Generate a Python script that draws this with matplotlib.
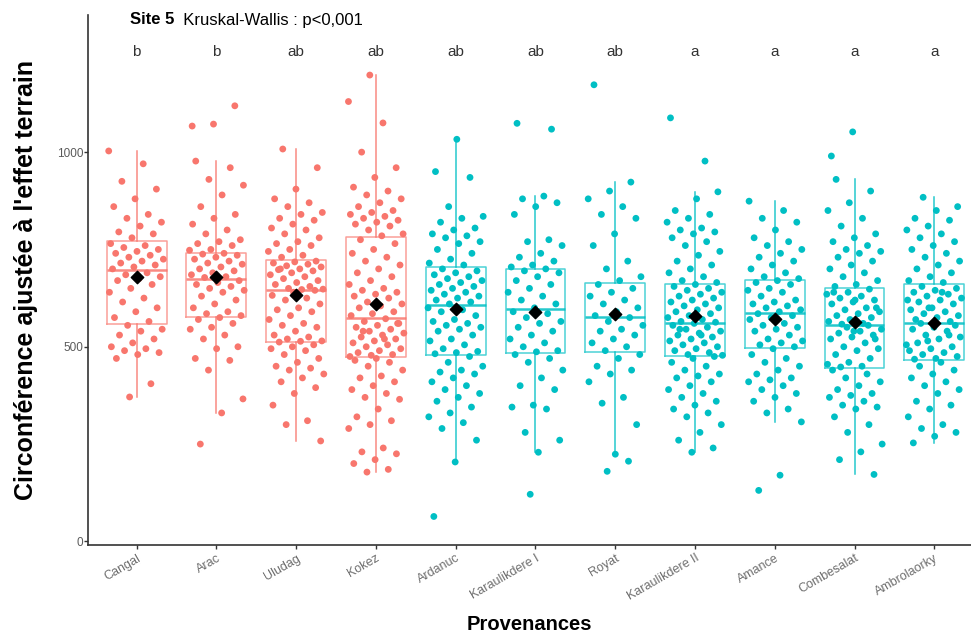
import numpy as np
import matplotlib.pyplot as plt

# provenances and groups
provenances = ['Cangal', 'Arac', 'Uludag', 'Kokez', 'Ardanuc', 'Karaulikdere I', 'Royat',
               'Karaulikdere II', 'Amance', 'Combesalat', 'Ambrolaorky']
groupe = [0, 0, 0, 0, 1, 1, 1, 1, 1, 1, 1]
lettres = ['b', 'b', 'ab', 'ab', 'ab', 'ab', 'ab', 'a', 'a', 'a', 'a']

# box stats
q1 = [559, 577, 513, 474, 479, 485, 487, 477, 498, 446, 466]
mediane = [696, 673, 647, 575, 606, 596, 577, 562, 588, 557, 562]
q3 = [771, 742, 722, 781, 704, 701, 665, 662, 672, 650, 660]
moust_bas = [371, 330, 258, 178, 204, 229, 224, 229, 307, 172, 253]
moust_haut = [1003, 977, 1008, 1198, 1033, 887, 923, 898, 874, 930, 884]
moyenne = [680, 678, 634, 611, 598, 590, 585, 580, 572, 564, 562]

# individual trees (circumference)
cangal = [1003, 970, 925, 905, 880, 860, 840, 830, 820, 810, 795, 790, 780,
          765, 760, 755, 750, 745, 740, 735, 730, 725, 720, 715, 710, 705, 700,
          690, 685, 680, 675, 670, 660, 650, 640, 625, 615, 600, 590, 575, 565,
          555, 545, 540, 530, 520, 510, 500, 495, 490, 485, 480, 470, 405, 371]
arac = [977, 960, 930, 915, 890, 860, 840, 830, 815, 800, 790, 775, 770, 765, 760, 750, 748,
        740, 738, 735, 730, 725, 720, 715, 712, 705, 700, 695, 690, 685, 680, 678,
        670, 665, 660, 655, 650, 645, 640, 630, 620, 610, 600, 590, 585, 580,
        575, 570, 560, 550, 545, 530, 520, 500, 495, 470, 465, 440, 366, 330, 250,
        1119, 1072, 1067]
uludag = [1008, 960, 905, 880, 870, 860, 845, 840, 830, 825, 815, 805, 800, 790, 780, 770,
          765, 760, 750, 745, 735, 730,
          720, 718, 715, 712, 708, 705, 700, 698, 695, 690, 685, 680, 675, 670, 665, 660,
          655, 650, 648, 647, 700,
          645, 640, 632, 625, 620, 610, 600, 595, 590, 580, 570, 560, 555, 550, 540, 530,
          525, 520, 515, 514,
          512, 505, 500, 495, 490, 480, 470, 460, 450, 445, 440, 430, 420, 410, 395, 380,
          350, 310, 300, 258]
kokez = [1198, 1130, 1075, 1000, 960, 935, 910, 900, 890, 880, 870, 860, 850, 845, 840, 835,
         830, 825, 820, 815, 810, 800, 790, 785,
         775, 765, 750, 740, 730, 720, 710, 700, 690, 680, 670, 660, 650, 645, 640, 635, 630,
         625, 615, 610, 605, 600, 590, 585, 580,
         572, 565, 560, 555, 550, 545, 540, 535, 530, 525, 520, 515, 510, 505, 500, 495, 490,
         485, 480, 478, 475, 520, 540, 560,
         470, 465, 460, 450, 440, 425, 420, 410, 400, 390, 380, 370, 365, 340, 320, 310, 300,
         290, 240, 230, 225, 210, 200, 185, 178]
ardanuc = [1033, 950, 935, 860, 835, 830, 820, 805, 800, 790, 785, 780, 770, 765, 750, 740,
           725, 715, 710,
           700, 695, 690, 685, 680, 675, 670, 665, 660, 655, 650, 645, 640, 635, 630, 625, 620,
           615, 610,
           600, 595, 590, 580, 570, 565, 560, 555, 550, 545, 540, 530, 520, 515, 505, 495, 488,
           485, 482,
           475, 460, 450, 440, 435, 430, 420, 410, 400, 390, 380, 370, 360, 345, 330, 320, 305,
           290, 260, 204, 64]
karaulikdere1 = [887, 880, 870, 860, 840, 775, 770, 760, 740, 730, 720, 710, 705,
                 700, 695, 690, 680, 670, 660, 650, 640, 630, 620, 610, 600,
                 590, 585, 575, 565, 560, 550, 540, 530, 520, 510, 500, 490, 487,
                 480, 470, 460, 440, 420, 400, 390, 350, 345, 340, 280, 260, 229,
                 1074, 1059, 121]
royat = [923, 900, 880, 860, 840, 830, 790, 760, 720, 700, 680, 670,
         660, 650, 640, 630, 620, 610, 600, 590, 580,
         575, 565, 555, 545, 540, 530, 520, 510, 500, 490,
         480, 470, 450, 440, 430, 410, 370, 355, 300, 224, 1173, 206, 180]
karaulikdere2 = [898, 880, 850, 840, 830, 820, 805, 800, 795, 790, 780, 770, 760, 745, 735,
                 720, 710, 700, 690, 680, 670, 665,
                 660, 655, 650, 645, 640, 635, 630, 625, 620, 615, 610, 605, 600, 595, 590,
                 585, 580, 575, 570, 565, 563,
                 560, 555, 550, 545, 540, 535, 530, 525, 520, 515, 510, 505, 500, 495, 490,
                 485, 480, 478, 530, 545,
                 475, 470, 460, 450, 440, 430, 425, 420, 410, 400, 390, 380, 370, 360, 350,
                 340, 330, 320, 300, 280, 260, 240, 229, 1088, 977]
amance = [874, 850, 830, 820, 800, 780, 770, 760, 750, 740, 730, 720, 710, 700, 690, 680, 675,
          670, 665, 660, 650, 645, 640, 630, 620, 615, 610, 605, 600, 595, 590,
          585, 580, 575, 570, 560, 555, 550, 545, 540, 530, 520, 515, 510, 505, 500,
          495, 480, 470, 460, 450, 440, 430, 420, 415, 410, 400, 390, 380, 370, 360, 340,
          330, 307, 170, 131]
combesalat = [930, 900, 870, 850, 830, 810, 790, 780, 770, 760, 750, 745, 740, 730, 720, 710,
              700, 690, 680, 670, 660, 655,
              648, 640, 635, 630, 625, 620, 615, 610, 600, 595, 590, 585, 580, 575, 570, 565,
              560, 558, 600, 620, 640,
              555, 550, 545, 540, 535, 530, 525, 520, 510, 500, 495, 490, 480, 470, 460, 455,
              450, 448, 520, 540,
              440, 430, 420, 410, 400, 390, 380, 375, 370, 360, 350, 345, 340, 320, 300, 280,
              250, 230, 210, 172, 1052, 990]
ambrolaorky = [884, 860, 850, 830, 825, 810, 800, 790, 780, 770, 760, 750, 740, 730, 720, 710,
               700, 690, 680, 670, 665,
               655, 650, 645, 640, 635, 630, 625, 620, 615, 610, 600, 595, 590, 585, 580, 575,
               570, 565, 600, 620, 640,
               560, 555, 550, 545, 540, 530, 525, 520, 510, 500, 495, 490, 485, 480, 475, 470,
               468, 530, 515, 505,
               460, 450, 440, 430, 420, 410, 400, 390, 380, 360, 350, 340, 320, 300, 290, 280,
               270, 253]

arbres = [cangal, arac, uludag, kokez, ardanuc, karaulikdere1, royat,
          karaulikdere2, amance, combesalat, ambrolaorky]

couleurs = ['#F8766D', '#00BFC4']
police = 'Liberation Sans'

fig = plt.figure(figsize=(9.71, 6.4), dpi=100)
ax = fig.add_axes([0.0906, 0.148, 0.9094, 0.829])

pos = np.arange(1, len(provenances) + 1)

## boxplots from the stats
for i in range(len(provenances)):
    c = couleurs[groupe[i]]
    stats = [dict(med=mediane[i], q1=q1[i], q3=q3[i], whislo=moust_bas[i],
                  whishi=moust_haut[i], fliers=[])]
    ax.bxp(stats, positions=[pos[i]], widths=0.75, showcaps=False, showfliers=False,
           boxprops=dict(color=c, lw=1.1, alpha=0.7),
           whiskerprops=dict(color=c, lw=1.1, alpha=0.85),
           medianprops=dict(color=c, lw=1.8, alpha=0.85))

## jittered points (deterministic spread)
for i, vals in enumerate(arbres):
    n = len(vals)
    dx = ((np.arange(n) * 0.6180339 + 0.13 * i) % 1 - 0.5) * 0.7
    ax.scatter(pos[i] + dx, vals, s=24, color=couleurs[groupe[i]], edgecolors='none', zorder=3)

## means
ax.scatter(pos, moyenne, marker='D', s=40, color='black', zorder=4)

## letters
for i in range(len(provenances)):
    ax.text(pos[i], 1258, lettres[i], ha='center', va='center', fontsize=11,
            color='#333333', family=police)

ax.set_xlim(0.39, 11.46)
ax.set_ylim(-10, 1353)
ax.set_xticks(pos)
ax.set_xticklabels(provenances, rotation=30, ha='right', rotation_mode='anchor',
                   fontsize=9, color='#6E6E6E', family=police)
ax.set_yticks([0, 500, 1000])
ax.set_yticklabels(['0', '500', '1000'], fontsize=8.5, color='#5A5A5A', family=police)
ax.tick_params(axis='x', length=3, color='#333333', width=1, pad=2)
ax.tick_params(axis='y', length=3, color='#333333', width=1, pad=0.5)
for s in ['top', 'right']:
    ax.spines[s].set_visible(False)
for s in ['left', 'bottom']:
    ax.spines[s].set_color('#333333')
    ax.spines[s].set_linewidth(1.2)

ax.set_xlabel('Provenances', fontsize=14.5, fontweight='bold', family=police)
ax.set_ylabel("Circonférence ajustée à l'effet terrain", fontsize=18, fontweight='bold',
              family=police)
ax.xaxis.set_label_coords(0.5, -0.132)
ax.yaxis.set_label_coords(-0.057, 0.5)

t1 = fig.text(130 / 971, 1 - 20 / 640, 'Site 5', fontsize=12, fontweight='bold', va='center',
              family=police)
ax.annotate('  Kruskal-Wallis : p<0,001', xy=(1, 0), xycoords=t1, va='bottom', fontsize=12,
            family=police)

fig.savefig('out.png', dpi=100)
